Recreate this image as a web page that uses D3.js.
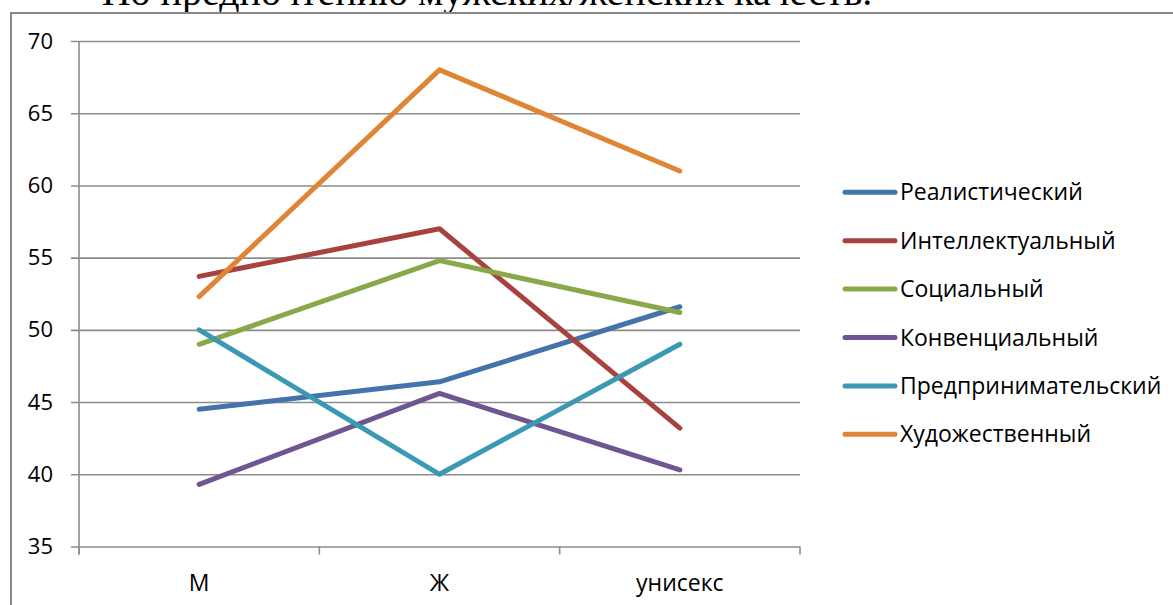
<!DOCTYPE html>
<html>
<head>
<meta charset="utf-8">
<script src="https://cdn.jsdelivr.net/npm/d3@7"></script>
<style>
  html, body { margin: 0; padding: 0; background: #fff; overflow: hidden; }
  svg { display: block; }
</style>
</head>
<body>
<svg id="chart" width="1173" height="605"></svg>
<script>
// ---- data ----
const title = "По предпочтению мужских/женских качеств.";
const categories = ["М", "Ж", "унисекс"];
const seriesNames = ["Реалистический", "Интеллектуальный", "Социальный", "Конвенциальный", "Предпринимательский", "Художественный"];
const realistic    = [44.5, 46.4, 51.6];
const intellectual = [53.7, 57.0, 43.2];
const social       = [49.0, 54.8, 51.2];
const conventional = [39.3, 45.6, 40.3];
const enterprising = [50.0, 40.0, 49.0];
const artistic     = [52.3, 68.0, 61.0];
const yTicks = [35, 40, 45, 50, 55, 60, 65, 70];
const colors = ["#4472AA", "#A8423F", "#88A84A", "#6F5591", "#3C99B3", "#E08534"];

const seriesValues = [realistic, intellectual, social, conventional, enterprising, artistic];
const series = seriesNames.map((name, i) => ({ name, color: colors[i], values: seriesValues[i] }));

const FONT = "'Open Sans', 'Noto Sans', sans-serif";
const svg = d3.select("#chart");

// title (cut off at top, as in the reference)
svg.append("text")
  .attr("x", 487).attr("y", 5)
  .attr("text-anchor", "middle")
  .style("font-family", "'Liberation Serif', 'Times New Roman', serif")
  .style("font-size", "40px")
  .attr("fill", "#000")
  .text(title);

// outer chart border
svg.append("path")
  .attr("d", "M11,700 L11,13 L1200,13")
  .attr("fill", "none")
  .attr("stroke", "#878787")
  .attr("stroke-width", 2);

const plot = { left: 79, right: 800, top: 41, bottom: 546.5 };

const x = d3.scaleBand().domain(categories).range([plot.left, plot.right]);
const y = d3.scaleLinear().domain([35, 70]).range([plot.bottom, plot.top]);

const gridColor = "#8c8c8c";

// horizontal gridlines + y ticks
const yAxis = d3.axisLeft(y).tickValues(yTicks).tickSize(8).tickPadding(18).tickFormat(d3.format("d"));
const gy = svg.append("g").attr("transform", `translate(${plot.left},0)`).call(yAxis);
gy.select(".domain").remove();
gy.selectAll(".tick line").attr("stroke", gridColor).attr("stroke-width", 1.6)
  .attr("x1", -8).attr("x2", plot.right - plot.left);
gy.selectAll(".tick text")
  .style("font-family", FONT).style("font-size", "22px").attr("fill", "#000");

// y axis line
svg.append("line")
  .attr("x1", plot.left).attr("x2", plot.left)
  .attr("y1", plot.top).attr("y2", plot.bottom + 8)
  .attr("stroke", gridColor).attr("stroke-width", 1.6);

// x axis ticks at category boundaries
const boundaries = categories.map(c => x(c)).concat([x(categories[categories.length - 1]) + x.bandwidth()]);
svg.selectAll("line.xtick").data(boundaries).join("line")
  .attr("class", "xtick")
  .attr("x1", d => d).attr("x2", d => d)
  .attr("y1", plot.bottom).attr("y2", plot.bottom + 8)
  .attr("stroke", gridColor).attr("stroke-width", 1.6);

// x labels
svg.selectAll("text.xlab").data(categories).join("text")
  .attr("class", "xlab")
  .attr("x", d => x(d) + x.bandwidth() / 2)
  .attr("y", 591)
  .attr("text-anchor", "middle")
  .style("font-family", FONT).style("font-size", "23px").attr("fill", "#000")
  .text(d => d);

// lines
const line = d3.line()
  .x((d, i) => x(categories[i]) + x.bandwidth() / 2)
  .y(d => y(d));

svg.append("g").selectAll("path").data(series).join("path")
  .attr("d", d => line(d.values))
  .attr("fill", "none")
  .attr("stroke", d => d.color)
  .attr("stroke-width", 5)
  .attr("stroke-linecap", "round")
  .attr("stroke-linejoin", "round");

// legend
const lg = svg.append("g").attr("transform", "translate(843,192.3)");
const items = lg.selectAll("g").data(series).join("g")
  .attr("transform", (d, i) => `translate(0,${i * 48.4})`);
items.append("line")
  .attr("x1", 2).attr("x2", 52).attr("y1", 0).attr("y2", 0)
  .attr("stroke", d => d.color).attr("stroke-width", 5).attr("stroke-linecap", "round");
items.append("text")
  .attr("x", 57).attr("y", 0).attr("dy", "0.35em")
  .style("font-family", FONT).style("font-size", "23px").attr("fill", "#000")
  .text(d => d.name);
</script>
</body>
</html>
